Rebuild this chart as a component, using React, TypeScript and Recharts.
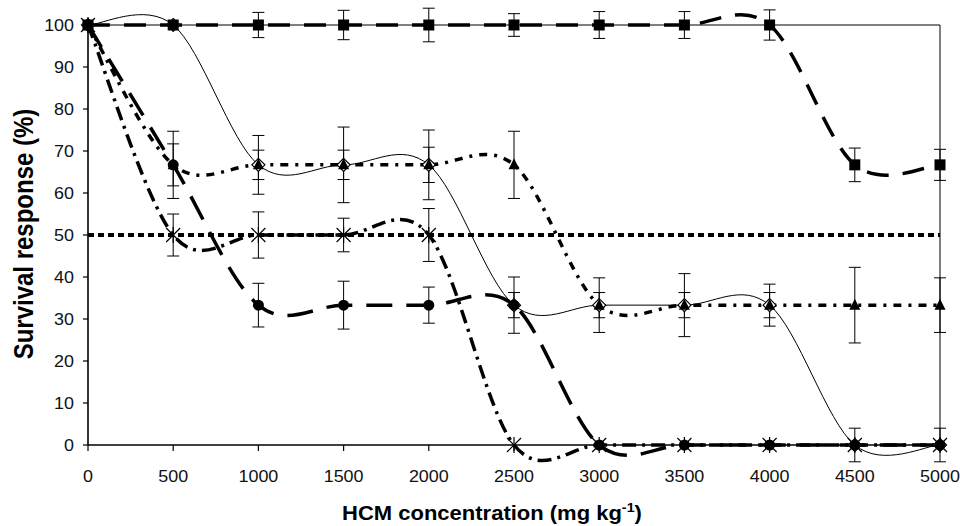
import React from 'react';
import { ComposedChart, Line, XAxis, YAxis, ErrorBar, ReferenceLine } from 'recharts';

const concentrations = [0, 500, 1000, 1500, 2000, 2500, 3000, 3500, 4000, 4500, 5000];
const xTicks = [0, 500, 1000, 1500, 2000, 2500, 3000, 3500, 4000, 4500, 5000];
const yTicks = [0, 10, 20, 30, 40, 50, 60, 70, 80, 90, 100];

const squareSurvival = [100, 100, 100, 100, 100, 100, 100, 100, 100, 66.7, 66.7];
const squareError = [null, null, 3, 3.5, 4, 2.7, 3.2, 3.2, 3.6, 4, 3.7];
const diamondSurvival = [100, 100, 66.7, 66.7, 66.7, 33.3, 33.3, 33.3, 33.3, 0, 0];
const diamondError = [null, null, 3.5, 3.5, 4.2, 3, 3, 3, 3, 4, 4];
const triangleSurvival = [100, 66.7, 66.7, 66.7, 66.7, 66.7, 33.3, 33.3, 33.3, 33.3, 33.3];
const triangleError = [null, 5, 7, 9, 8.3, 8, 6.5, 7.5, 5, 9, 6.5];
const circleSurvival = [100, 66.7, 33.3, 33.3, 33.3, 33.3, 0, 0, 0, 0, 0];
const circleError = [null, 8, 5.2, 5.7, 4.3, 6.7, null, null, null, null, null];
const asteriskSurvival = [100, 50, 50, 50, 50, 0, 0, 0, 0, 0, 0];
const asteriskError = [null, 5, 5.5, 4, 6.3, null, null, null, null, null, null];
const threshold = 50;

const data = concentrations.map((x, i) => ({
  x,
  sq: squareSurvival[i],
  sqE: squareError[i],
  di: diamondSurvival[i],
  diE: diamondError[i],
  tr: triangleSurvival[i],
  trE: triangleError[i],
  ci: circleSurvival[i],
  ciE: circleError[i],
  as: asteriskSurvival[i],
  asE: asteriskError[i],
}));

// Excel-like smoothed line (Catmull-Rom with 1/6 tangents)
function excelSmooth(context: any) {
  let pts: number[][] = [];
  return {
    areaStart() {},
    areaEnd() {},
    lineStart() {
      pts = [];
    },
    lineEnd() {
      const n = pts.length;
      if (!n) return;
      context.moveTo(pts[0][0], pts[0][1]);
      for (let i = 0; i < n - 1; i++) {
        const p0 = pts[Math.max(i - 1, 0)];
        const p1 = pts[i];
        const p2 = pts[i + 1];
        const p3 = pts[Math.min(i + 2, n - 1)];
        context.bezierCurveTo(
          p1[0] + (p2[0] - p0[0]) / 6,
          p1[1] + (p2[1] - p0[1]) / 6,
          p2[0] - (p3[0] - p1[0]) / 6,
          p2[1] - (p3[1] - p1[1]) / 6,
          p2[0],
          p2[1]
        );
      }
    },
    point(x: number, y: number) {
      pts.push([+x, +y]);
    },
  };
}

const FONT = '"Liberation Sans", Arial, sans-serif';

const SquareDot = (p: any) => (
  <rect x={p.cx - 5.5} y={p.cy - 5.5} width={11} height={11} fill="#000" />
);
const DiamondDot = (p: any) => (
  <polygon
    points={`${p.cx},${p.cy - 6.5} ${p.cx + 6.5},${p.cy} ${p.cx},${p.cy + 6.5} ${p.cx - 6.5},${p.cy}`}
    fill="#fff"
    stroke="#000"
    strokeWidth={1.2}
  />
);
const TriangleDot = (p: any) => (
  <polygon
    points={`${p.cx},${p.cy - 6.5} ${p.cx + 5.5},${p.cy + 4.5} ${p.cx - 5.5},${p.cy + 4.5}`}
    fill="#000"
  />
);
const CircleDot = (p: any) => <circle cx={p.cx} cy={p.cy} r={5.5} fill="#000" />;
const AsteriskDot = (p: any) => (
  <g stroke="#000" strokeWidth={1.2}>
    <line x1={p.cx - 7} y1={p.cy - 7} x2={p.cx + 7} y2={p.cy + 7} />
    <line x1={p.cx - 7} y1={p.cy + 7} x2={p.cx + 7} y2={p.cy - 7} />
    <line x1={p.cx} y1={p.cy - 8} x2={p.cx} y2={p.cy + 8} />
  </g>
);

const XTick = (props: any) => {
  const { x, y, payload } = props;
  return (
    <g transform={`translate(${x},${y + 29})`}>
      <text transform="scale(1.12,1)" textAnchor="middle" fontFamily={FONT} fontSize={16} fill="#111">
        {payload.value}
      </text>
    </g>
  );
};

const YTick = (props: any) => {
  const { x, y, payload } = props;
  return (
    <g transform={`translate(${x},${y + 5.5})`}>
      <text transform="scale(1.12,1)" textAnchor="end" fontFamily={FONT} fontSize={16} fill="#111">
        {payload.value}
      </text>
    </g>
  );
};

const XTitle = () => (
  <g transform="translate(492,520)">
    <text transform="scale(1.1,1)" textAnchor="middle" fontFamily={FONT} fontSize={20} fontWeight="bold" fill="#000">
      HCM concentration (mg kg
      <tspan fontSize={13} dy={-8}>-1</tspan>
      <tspan dy={8}>)</tspan>
    </text>
  </g>
);

const YTitle = () => (
  <g transform="translate(33,234) scale(1.12,1) rotate(-90)">
    <text textAnchor="middle" fontFamily={FONT} fontSize={24} fontWeight="bold" fill="#000">
      Survival response (%)
    </text>
  </g>
);

const eb = { width: 6, stroke: '#000', strokeWidth: 1, direction: 'y' as const, isAnimationActive: false };

export default function App() {
  return (
    <div style={{ position: 'absolute', left: 0, top: 0, width: 960, height: 526, background: '#fff' }}>
      <style>{`.recharts-wrapper [clip-path] { clip-path: none !important; }`}</style>
      <ComposedChart width={960} height={526} data={data} margin={{ top: 25, right: 20, bottom: 41, left: 28 }}>
        <XAxis
          dataKey="x"
          type="number"
          domain={[0, 5000]}
          ticks={xTicks}
          interval={0}
          tick={<XTick />}
          tickSize={6}
          axisLine={{ stroke: '#000', strokeWidth: 1.6 }}
          tickLine={{ stroke: '#000', strokeWidth: 1.2 }}
          height={40}
          label={{ content: () => <XTitle /> }}
        />
        <YAxis
          type="number"
          domain={[0, 100]}
          allowDataOverflow
          ticks={yTicks}
          interval={0}
          tick={<YTick />}
          tickSize={5}
          tickMargin={9}
          axisLine={{ stroke: '#000', strokeWidth: 1.6 }}
          tickLine={{ stroke: '#000', strokeWidth: 1.2 }}
          width={60}
          label={{ content: () => <YTitle /> }}
        />
        <ReferenceLine y={100} stroke="#000" strokeWidth={1} />
        <ReferenceLine x={5000} stroke="#000" strokeWidth={1} />
        <ReferenceLine y={threshold} stroke="#000" strokeWidth={4} strokeDasharray="6 4" />

        <Line
          dataKey="di"
          type={excelSmooth as any}
          stroke="#000"
          strokeWidth={1}
          dot={(p: any) => <DiamondDot key={`di${p.index}`} {...p} />}
          activeDot={false}
          isAnimationActive={false}
        >
          <ErrorBar dataKey="diE" {...eb} />
        </Line>
        <Line
          dataKey="sq"
          type={excelSmooth as any}
          stroke="#000"
          strokeWidth={3.5}
          strokeDasharray="22 14"
          dot={(p: any) => <SquareDot key={`sq${p.index}`} {...p} />}
          activeDot={false}
          isAnimationActive={false}
        >
          <ErrorBar dataKey="sqE" {...eb} />
        </Line>
        <Line
          dataKey="tr"
          type={excelSmooth as any}
          stroke="#000"
          strokeWidth={3.5}
          strokeDasharray="8 7 3 7"
          dot={(p: any) => <TriangleDot key={`tr${p.index}`} {...p} />}
          activeDot={false}
          isAnimationActive={false}
        >
          <ErrorBar dataKey="trE" {...eb} />
        </Line>
        <Line
          dataKey="ci"
          type={excelSmooth as any}
          stroke="#000"
          strokeWidth={3.5}
          strokeDasharray="26 14"
          dot={(p: any) => <CircleDot key={`ci${p.index}`} {...p} />}
          activeDot={false}
          isAnimationActive={false}
        >
          <ErrorBar dataKey="ciE" {...eb} />
        </Line>
        <Line
          dataKey="as"
          type={excelSmooth as any}
          stroke="#000"
          strokeWidth={3.5}
          strokeDasharray="14 6 3 6"
          dot={(p: any) => <AsteriskDot key={`as${p.index}`} {...p} />}
          activeDot={false}
          isAnimationActive={false}
        >
          <ErrorBar dataKey="asE" {...eb} />
        </Line>
      </ComposedChart>
    </div>
  );
}
